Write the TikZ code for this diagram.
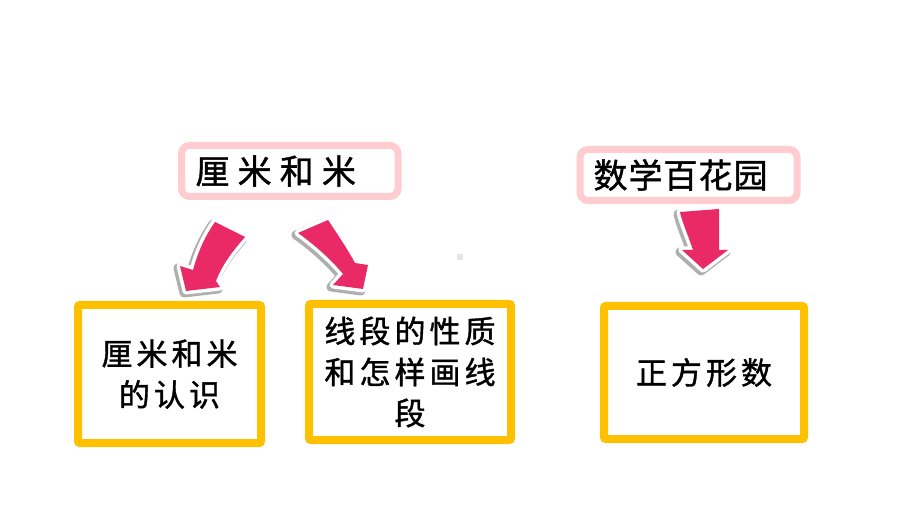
\documentclass[tikz,border=0pt]{standalone}
\usepackage{fontspec}
\newfontfamily\cjkbox[LetterSpace=13,FakeBold=1.2]{Noto Sans CJK SC}
\newfontfamily\cjktopa[LetterSpace=24,FakeBold=1.2]{Noto Sans CJK SC}
\newfontfamily\cjktopb[LetterSpace=3,FakeBold=1.2]{Noto Sans CJK SC}
\definecolor{ybord}{RGB}{255,192,0}
\definecolor{pbord}{RGB}{255,204,208}
\definecolor{apink}{RGB}{233,42,102}
\definecolor{ashadow}{RGB}{140,140,140}
\newcommand\arrowLpath{(215,222) -- (245,237) .. controls (232,252) and (222,265) .. (216,281) -- (220,287) -- (186,291) -- (180,266) -- (193,270) .. controls (198,252) and (205,236) .. (215,222) -- cycle}
\newcommand\arrowRpath{(298,233) -- (328,220) .. controls (338,235) and (348,250) .. (355,263) -- (368,265) -- (363,289) -- (333,285) -- (343,274) .. controls (330,258) and (312,243) .. (298,233) -- cycle}
\newcommand\arrowMpath{(680,212) -- (719,209) -- (719,250) -- (728,250) -- (703,269) -- (682,250) -- (693,250) .. controls (688,235) and (682,222) .. (680,212) -- cycle}
\tikzset{
  ybox/.style={draw=ybord, line width=8pt, rounded corners=2pt, fill=white, align=center,
    font=\cjkbox\fontsize{31}{41}\selectfont},
  pbox/.style={draw=pbord, line width=7pt, rounded corners=8pt, fill=white, align=left,
    minimum height=51pt, anchor=west},
  ashad/.style={fill=ashadow!70, draw=ashadow!70, line width=9pt, line join=round},
  aline/.style={draw=white, fill=white, line width=7pt, line join=round},
  afill/.style={fill=apink}
}
\begin{document}
\begin{tikzpicture}[x=1pt,y=-1pt]
\useasboundingbox[fill=white] (0,0) rectangle (920,518);
% top labels
\node[pbox, inner xsep=14pt, text width=188.5pt, font=\cjktopa\fontsize{34}{40}\selectfont] (t1) at (178,171) {厘米和米};
\node[pbox, inner xsep=13.5pt, text width=190pt, font=\cjktopb\fontsize{34}{40}\selectfont] (t2) at (576.5,175) {数学百花园};
% arrows
\begin{scope}[shift={(-2,2)}]
  \path[ashad] \arrowLpath;
  \path[ashad] \arrowRpath;
  \path[ashad] \arrowMpath;
\end{scope}
\path[aline] \arrowLpath;
\path[aline] \arrowRpath;
\path[aline] \arrowMpath;
\path[afill] \arrowLpath;
\path[afill] \arrowRpath;
\path[afill] \arrowMpath;
% small mark
\fill[gray!20] (457,254) rectangle (463,260);
% boxes
\node[ybox, minimum width=183pt, minimum height=138pt] (b1) at (169.5,374) {厘米和米\\的认识};
\node[ybox, minimum width=202pt, minimum height=136pt] (b2) at (410,372) {线段的性质\\和怎样画线\\段};
\node[ybox, minimum width=200pt, minimum height=133pt] (b3) at (704,372.5) {正方形数};
\end{tikzpicture}
\end{document}
